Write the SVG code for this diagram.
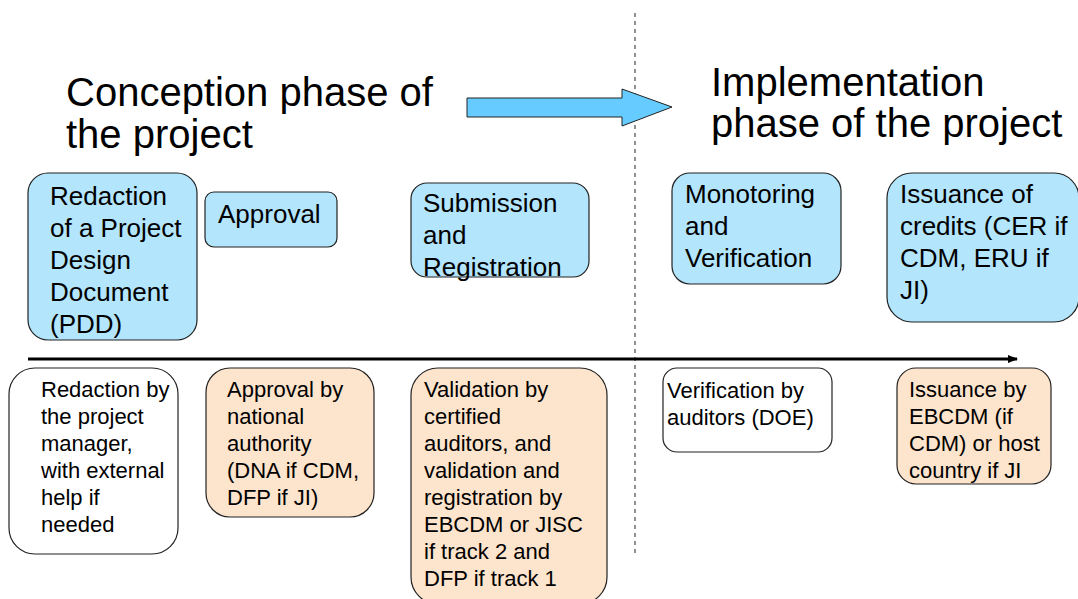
<svg xmlns="http://www.w3.org/2000/svg" width="1078" height="599" viewBox="0 0 1078 599">
<defs>
<style>
.t{font-family:"Liberation Sans",Arial,sans-serif;fill:#000}
.title{font-size:40px}
.top{font-size:26px}
.bot{font-size:22px}
.blue{fill:#B3E5FC;stroke:#222;stroke-width:1.2}
.peach{fill:#FDE4CC;stroke:#222;stroke-width:1.2}
.white{fill:#fff;stroke:#222;stroke-width:1.2}
</style>
<marker id="ah" markerWidth="10" markerHeight="8" refX="9" refY="4" orient="auto" markerUnits="userSpaceOnUse">
<path d="M0,0 L10,4 L0,8 Z" fill="#000"/>
</marker>
</defs>
<rect width="1078" height="599" fill="#fff"/>

<g id="titles">
<text class="t title" x="66" y="106">Conception phase of</text>
<text class="t title" x="66" y="148">the project</text>
<text class="t title" x="711" y="96">Implementation</text>
<text class="t title" x="711" y="137">phase of the project</text>
</g>

<g id="connectors">
<line x1="635" y1="13" x2="635" y2="553" stroke="#555" stroke-width="1.3" stroke-dasharray="4,4"/>
<line x1="28" y1="359" x2="1017" y2="359" stroke="#000" stroke-width="3" marker-end="url(#ah)"/>
<path d="M467,98 L622,98 L622,89 L672,107 L622,126 L622,117 L467,117 Z" fill="#66CCFF" stroke="#222" stroke-width="1"/>
</g>

<g id="pdd">
<rect class="blue" x="28" y="173" width="169" height="167" rx="20"/>
<text class="t top" x="50" y="205">Redaction</text>
<text class="t top" x="50" y="237">of a Project</text>
<text class="t top" x="50" y="269">Design</text>
<text class="t top" x="50" y="301">Document</text>
<text class="t top" x="50" y="333">(PDD)</text>
</g>

<g id="approval">
<rect class="blue" x="205" y="192" width="132" height="55" rx="9"/>
<text class="t top" x="218" y="223">Approval</text>
</g>

<g id="submission">
<rect class="blue" x="411" y="183" width="178" height="94" rx="16"/>
<text class="t top" x="423" y="212">Submission</text>
<text class="t top" x="423" y="244">and</text>
<text class="t top" x="423" y="276">Registration</text>
</g>

<g id="monitoring">
<rect class="blue" x="672" y="173" width="169" height="111" rx="18"/>
<text class="t top" x="685" y="203">Monotoring</text>
<text class="t top" x="685" y="235">and</text>
<text class="t top" x="685" y="267">Verification</text>
</g>

<g id="issuance">
<rect class="blue" x="887" y="173" width="192" height="149" rx="25"/>
<text class="t top" x="900" y="203">Issuance of</text>
<text class="t top" x="900" y="235">credits (CER if</text>
<text class="t top" x="900" y="267">CDM, ERU if</text>
<text class="t top" x="900" y="299">JI)</text>
</g>

<g id="redaction-by">
<rect class="white" x="9" y="368" width="169" height="186" rx="26"/>
<text class="t bot" x="41" y="397">Redaction by</text>
<text class="t bot" x="41" y="424">the project</text>
<text class="t bot" x="41" y="451">manager,</text>
<text class="t bot" x="41" y="478">with external</text>
<text class="t bot" x="41" y="505">help if</text>
<text class="t bot" x="41" y="532">needed</text>
</g>

<g id="approval-by">
<rect class="peach" x="206" y="368" width="168" height="149" rx="24"/>
<text class="t bot" x="227" y="397">Approval by</text>
<text class="t bot" x="227" y="424">national</text>
<text class="t bot" x="227" y="451">authority</text>
<text class="t bot" x="227" y="478">(DNA if CDM,</text>
<text class="t bot" x="227" y="505">DFP if JI)</text>
</g>

<g id="validation">
<rect class="peach" x="411" y="368" width="196" height="236" rx="27"/>
<text class="t bot" x="424" y="397">Validation by</text>
<text class="t bot" x="424" y="424">certified</text>
<text class="t bot" x="424" y="451">auditors, and</text>
<text class="t bot" x="424" y="478">validation and</text>
<text class="t bot" x="424" y="505">registration by</text>
<text class="t bot" x="424" y="532">EBCDM or JISC</text>
<text class="t bot" x="424" y="559">if track 2 and</text>
<text class="t bot" x="424" y="586">DFP if track 1</text>
</g>

<g id="verification">
<rect class="white" x="663" y="368" width="169" height="84" rx="14"/>
<text class="t bot" x="667" y="398">Verification by</text>
<text class="t bot" x="667" y="425">auditors (DOE)</text>
</g>

<g id="issuance-by">
<rect class="peach" x="897" y="368" width="154" height="116" rx="19"/>
<text class="t bot" x="909" y="397">Issuance by</text>
<text class="t bot" x="909" y="424">EBCDM (if</text>
<text class="t bot" x="909" y="451">CDM) or host</text>
<text class="t bot" x="909" y="478">country if JI</text>
</g>
</svg>
